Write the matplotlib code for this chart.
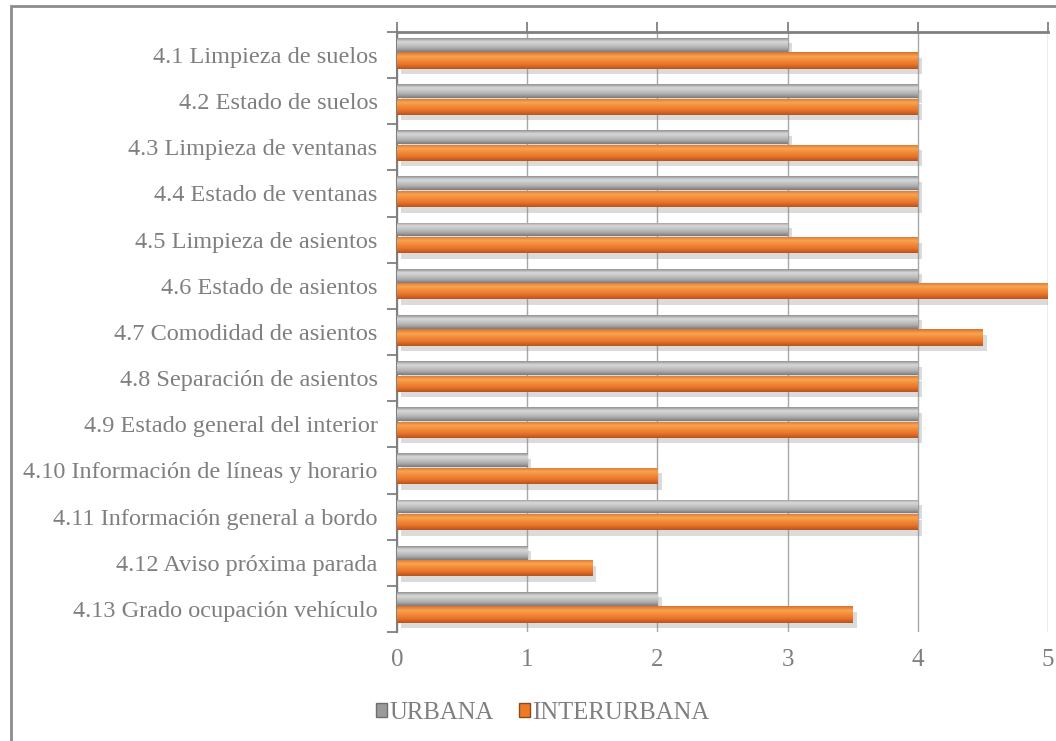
import matplotlib.pyplot as plt
import matplotlib.patheffects as pe
from matplotlib.patches import Rectangle, Patch
from matplotlib.colors import LinearSegmentedColormap
import numpy as np

plt.rcParams['font.family'] = ['Liberation Serif', 'DejaVu Serif']

categorias = ['4.1 Limpieza de suelos', '4.2 Estado de suelos', '4.3 Limpieza de ventanas',
              '4.4 Estado de ventanas', '4.5 Limpieza de asientos', '4.6 Estado de asientos',
              '4.7 Comodidad de asientos', '4.8 Separación de asientos',
              '4.9 Estado general del interior', '4.10 Información de líneas y horario',
              '4.11 Información general a bordo', '4.12 Aviso próxima parada',
              '4.13 Grado ocupación vehículo']
urbana = [3, 4, 3, 4, 3, 4, 4, 4, 4, 1, 4, 1, 2]
interurbana = [4, 4, 4, 4, 4, 5, 4.5, 4, 4, 2, 4, 1.5, 3.5]
xticks = [0, 1, 2, 3, 4, 5]

txt = '#7f7f7f'
fig = plt.figure(figsize=(10.56, 7.41), dpi=100)
ax = fig.add_axes([0.376, 0.147, 0.6164, 0.81])

y = np.arange(len(categorias))
sombra = [pe.SimplePatchShadow(offset=(3, -4), shadow_rgbFace='#8a8a8a', alpha=0.3), pe.Normal()]

# degradado de arriba a abajo para el efecto cilindro
cm_gris = LinearSegmentedColormap.from_list('gris', ['#8f8f8f', '#d9d9d9', '#c4c4c4', '#a9a9a9', '#7a7a7a'])
cm_nar = LinearSegmentedColormap.from_list('nar', ['#d8702c', '#f9a552', '#f28a36', '#e8712a', '#b4541d'])
grad = np.linspace(0, 1, 64).reshape(-1, 1)

def barra(pos, vals, h, base, cmap, etiqueta):
    bars = ax.barh(pos, vals, height=h, color=base, label=etiqueta, zorder=3,
                   path_effects=sombra, linewidth=0)
    for p in bars.patches:
        x0, y0 = p.get_x(), p.get_y()
        w, hh = p.get_width(), p.get_height()
        im = ax.imshow(grad, cmap=cmap, aspect='auto', extent=[x0, x0 + w, y0 + hh, y0],
                       zorder=4, interpolation='bicubic')
        im.set_clip_path(p)

barra(y + 0.28, urbana, 0.30, '#b9b9b9', cm_gris, 'URBANA')
barra(y + 0.62, interurbana, 0.35, '#ee7a25', cm_nar, 'INTERURBANA')

ax.set_xlim(0, 5)
ax.set_ylim(len(categorias), 0)

ax.set_xticks(xticks)
ax.set_xticklabels([str(v) for v in xticks])
ax.tick_params(axis='x', top=True, bottom=False, labeltop=False, labelbottom=True,
               direction='out', length=7, width=1.3, color='#808080',
               labelsize=18, labelcolor=txt, pad=5)
ax.grid(axis='x', color='#a8a8a8', linewidth=1, zorder=0)

ax.set_yticks(np.arange(len(categorias) + 1))
ax.set_yticklabels([])
ax.set_yticks(y + 0.5, minor=True)
ax.set_yticklabels(categorias, minor=True)
ax.tick_params(axis='y', which='major', direction='out', length=7, width=1.3, color='#808080')
ax.tick_params(axis='y', which='minor', length=0, labelsize=17.5, labelcolor=txt, pad=14)

for s in ['right', 'bottom']:
    ax.spines[s].set_visible(False)
ax.spines['top'].set_color('#808080')
ax.spines['top'].set_linewidth(2)
ax.spines['left'].set_color('#808080')
ax.spines['left'].set_linewidth(1.5)

handles = [Patch(facecolor='#9a9a9a', edgecolor='#6f6f6f'),
           Patch(facecolor='#ee7a25', edgecolor='#8a4a20')]
fig.legend(handles, ['URBANA', 'INTERURBANA'], loc='center', bbox_to_anchor=(0.514, 0.038),
           ncol=2, frameon=False, fontsize=17.8, labelcolor=txt, handlelength=0.45,
           handleheight=0.45, handletextpad=0.1, columnspacing=1.0)

fig.patches.append(Rectangle((11 / 1056, -0.05), 1.2, 1.05 - 6 / 741, transform=fig.transFigure,
                             fill=False, edgecolor='#8c8c8c', linewidth=2))

fig.savefig('out.png', dpi=100)
